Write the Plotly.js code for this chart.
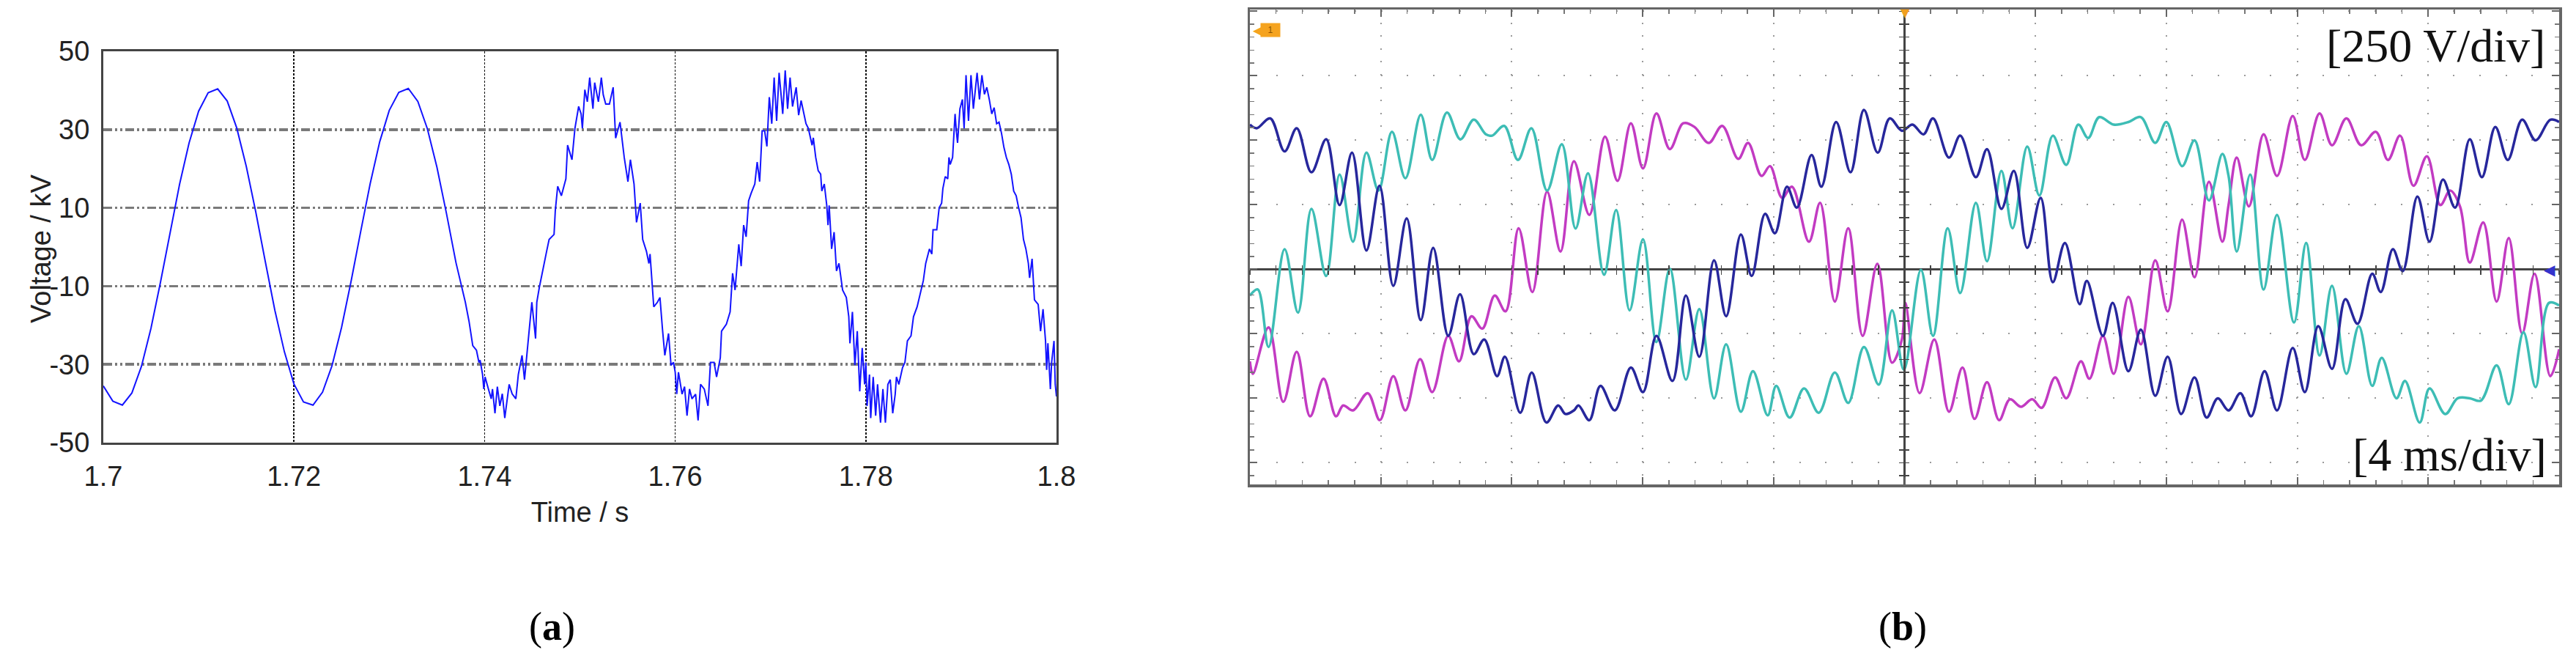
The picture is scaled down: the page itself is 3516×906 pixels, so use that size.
<!DOCTYPE html>
<html><head><meta charset="utf-8">
<script src="https://cdn.plot.ly/plotly-3.0.1.min.js"></script>
<style>html,body{margin:0;padding:0;background:#fff;} #chart{width:3516px;height:906px;}</style>
</head><body><div id="chart"></div>
<script>
// ---------- Panel (a): simulated voltage ----------
const timeClean = [1.700,1.701,1.702,1.703,1.704,1.705,1.706,1.707,1.708,1.709,1.710,1.711,1.712,1.713,1.714,1.715,1.716,1.717,1.718,1.719,1.720,1.721,1.722,1.723,1.724,1.725,1.726,1.727,1.728,1.729,1.730,1.731,1.732,1.733,1.734,1.735,1.736,1.737];
const voltClean = [-35.5,-39.4,-40.4,-37.3,-30.5,-20.8,-9.0,3.6,16.0,26.6,34.7,39.4,40.4,37.3,30.4,20.6,8.9,-3.8,-16.2,-26.8,-35.0,-39.6,-40.4,-37.1,-30.3,-20.5,-8.7,3.9,16.2,26.9,34.9,39.5,40.5,37.2,30.2,20.4,8.6,-4.0];
const timeNoisy = [1.73798,1.73837,1.73876,1.73915,1.73941,1.73953,1.73979,1.73992,1.74005,1.74044,1.74070,1.74083,1.74109,1.74134,1.74160,1.74186,1.74212,1.74238,1.74258,1.74289,1.74328,1.74354,1.74393,1.74419,1.74457,1.74496,1.74535,1.74548,1.74574,1.74612,1.74651,1.74677,1.74729,1.74742,1.74767,1.74806,1.74853,1.74871,1.74917,1.74948,1.74987,1.75013,1.75026,1.75052,1.75078,1.75103,1.75137,1.75155,1.75194,1.75225,1.75245,1.75271,1.75310,1.75349,1.75375,1.75421,1.75465,1.75504,1.75530,1.75568,1.75594,1.75633,1.75659,1.75698,1.75724,1.75736,1.75762,1.75775,1.75814,1.75840,1.75866,1.75891,1.75930,1.75956,1.75982,1.76000,1.76016,1.76034,1.76072,1.76098,1.76124,1.76150,1.76176,1.76214,1.76240,1.76266,1.76305,1.76344,1.76370,1.76408,1.76434,1.76473,1.76486,1.76537,1.76576,1.76602,1.76628,1.76667,1.76692,1.76718,1.76744,1.76770,1.76796,1.76835,1.76860,1.76886,1.76912,1.76938,
1.76962,1.76987,1.77013,1.77038,1.77064,1.77090,1.77115,1.77128,1.77154,1.77179,1.77205,1.77231,1.77269,1.77295,1.77321,1.77346,1.77372,1.77397,1.77436,1.77449,1.77474,1.77500,1.77526,1.77538,1.77564,1.77590,1.77603,1.77615,1.77641,1.77667,1.77692,1.77718,1.77756,1.77795,1.77821,1.77833,1.77859,1.77885,1.77910,1.77936,1.77962,1.77987,1.78000,1.78013,1.78038,1.78051,1.78077,1.78103,1.78123,1.78154,1.78179,1.78205,1.78231,1.78256,1.78282,1.78308,1.78321,1.78346,1.78385,1.78410,1.78436,1.78474,1.78500,1.78538,1.78577,1.78603,1.78628,1.78667,1.78692,1.78705,1.78744,1.78769,1.78795,1.78808,1.78833,1.78859,1.78872,1.78885,1.78910,1.78936,1.78949,1.78962,1.78987,1.79013,1.79031,1.79051,1.79077,1.79103,1.79128,1.79167,1.79192,1.79218,1.79244,1.79269,1.79295,1.79321,1.79346,1.79372,1.79397,1.79423,1.79449,1.79474,1.79500,1.79526,1.79551,1.79577,1.79603,1.79628,1.79654,1.79679,1.79705,1.79718,1.79744,1.79769,1.79808,1.79833,1.79859,1.79885,1.79897,1.79910,1.79936,1.79949,1.79974,1.79987,1.80000];
const voltNoisy = [-14.1,-19.0,-25.2,-26.4,-29.5,-28.9,-32.6,-36.3,-33.2,-36.6,-38.8,-36.3,-42.5,-35.7,-40.6,-37.5,-43.7,-38.8,-35.1,-37.5,-38.8,-32.6,-27.7,-33.9,-24.6,-14.1,-23.4,-14.1,-10.4,-5.5,-1.1,1.9,3.2,9.3,15.5,13.1,17.4,26.0,22.3,30.3,35.9,34.0,30.3,40.2,37.1,43.3,35.3,42.0,37.1,43.3,38.9,36.5,36.5,40.8,27.8,31.9,22.9,16.7,22.3,16.1,6.3,11.2,1.9,-1.1,-4.2,-1.8,-11.6,-15.3,-14.1,-12.9,-20.9,-27.7,-22.1,-30.2,-29.5,-32.0,-37.6,-32.0,-37.6,-35.7,-43.1,-36.3,-38.8,-37.6,-44.3,-35.1,-36.3,-40.6,-29.5,-29.5,-33.2,-28.3,-21.5,-19.7,-16.6,-6.7,-11.0,0.7,-4.9,5.6,2.6,11.8,13.7,16.1,21.7,16.7,29.7,29.7,
25.7,38.3,31.5,43.3,32.2,44.5,37.7,34.0,45.1,35.3,43.3,35.9,40.8,33.7,37.4,34.6,31.5,30.3,26.0,27.9,22.9,19.5,18.6,14.3,16.1,10.6,5.6,10.6,-0.5,3.8,-6.1,-4.2,-11.0,-12.9,-17.8,-24.6,-16.6,-30.2,-21.5,-36.9,-25.8,-35.1,-29.5,-40.6,-32.6,-43.7,-33.2,-43.1,-35.1,-44.9,-36.3,-44.9,-35.1,-33.9,-42.5,-37.6,-33.2,-35.1,-30.8,-29.5,-24.0,-22.7,-17.8,-15.3,-11.0,-8.6,-4.2,-0.5,-1.8,4.4,4.4,10.0,11.2,14.9,18.0,17.4,22.9,21.1,22.9,34.0,29.7,26.6,35.3,37.7,30.3,43.9,32.2,43.9,35.3,44.5,37.7,43.9,39.0,40.8,37.7,34.0,35.6,31.5,31.9,29.1,25.4,22.9,21.1,18.6,14.3,13.1,10.0,7.5,1.9,-0.5,-4.2,-7.9,-3.0,-13.5,-14.7,-21.5,-15.9,-24.0,-31.4,-24.6,-36.3,-29.5,-24.0,-35.1,-38.2];
const xTickVals = [1.7,1.72,1.74,1.76,1.78,1.8];
const xTickText = ['1.7','1.72','1.74','1.76','1.78','1.8'];
const yTickVals = [-50,-30,-10,10,30,50];
const yTickText = ['-50','-30','-10','10','30','50'];
const axisTitlesA = ['Time / s', 'Voltage / kV'];

// ---------- Panel (b): oscilloscope, time in ms, voltage in V ----------
const blueT = [0,0.21,0.62,1.06,1.43,1.88,2.33,2.74,3.12,3.56,3.96,4.38,4.79,5.22,5.60,6.06,6.42,6.84,7.16,7.55,7.79,8.26,8.61,9.06,9.42,9.64,9.90,10.04,10.37,10.71,11.15,11.64,12.01,12.42,12.91,13.32,13.73,14.18,14.55,15.00,15.33,15.74,16.04,16.41,16.71,17.16,17.46,17.91,18.35,18.76,19.18,19.55,19.92,20.24,20.58,20.87,21.36,21.70,22.18,22.52,22.96,23.34,23.75,24.16,24.53,24.90,25.35,25.57,26.06,26.36,26.84,27.22,27.66,28.04,28.45,28.86,29.23,29.57,29.90,30.26,30.59,31.00,31.38,31.86,32.23,32.64,33.06,33.47,33.84,34.29,34.55,34.92,35.22,35.67,36.04,36.45,36.82,37.27,37.64,38.05,38.43,38.87,39.28,39.73,40.0];
const blueV = [561,547,585,457,547,376,504,249,452,73,324,-64,197,-197,83,-258,-97,-329,-272,-414,-339,-556,-400,-594,-528,-561,-547,-528,-585,-452,-547,-381,-476,-258,-433,-102,-339,35,-182,135,-26,215,140,320,239,443,320,571,376,618,452,585,537,561,523,585,433,518,357,466,234,381,83,277,-50,102,-135,-45,-258,-130,-395,-234,-490,-339,-561,-419,-575,-500,-547,-480,-570,-395,-547,-305,-476,-220,-386,-116,-211,-17,-88,78,-7,282,107,348,239,504,357,552,424,580,500,580,571];
const cyanT = [0,0.24,0.57,1.06,1.47,1.88,2.33,2.74,3.15,3.56,3.93,4.34,4.75,5.22,5.57,6.02,6.43,6.84,7.21,7.40,7.77,8.19,8.60,9.08,9.53,9.95,10.33,10.82,11.19,11.60,12.01,12.42,12.83,13.32,13.73,14.18,14.55,15.00,15.37,15.82,16.08,16.49,16.93,17.38,17.87,18.28,18.76,19.21,19.62,19.98,20.50,20.87,21.32,21.70,22.18,22.52,22.96,23.30,23.75,24.12,24.53,24.94,25.31,25.61,25.95,26.39,26.84,27.22,27.66,28.00,28.48,28.86,29.30,29.71,29.90,30.15,30.56,30.97,31.38,31.90,32.27,32.68,33.06,33.50,33.88,34.29,34.58,35.03,35.29,35.74,36.04,36.52,36.90,37.27,37.61,38.09,38.46,38.91,39.28,39.69,40.0];
const cyanV = [-102,-78,-301,78,-168,234,-26,367,107,452,305,533,353,599,424,608,504,580,523,518,556,424,547,305,485,158,372,-21,230,-159,116,-282,2,-428,-154,-500,-291,-552,-395,-566,-452,-575,-462,-556,-400,-518,-301,-447,-159,-390,-2,-258,159,-92,258,31,381,159,476,286,518,405,561,509,590,561,571,590,490,571,400,500,267,447,362,69,367,-78,211,-206,102,-334,-64,-405,-220,-452,-343,-500,-433,-594,-462,-561,-500,-500,-509,-372,-523,-244,-457,-130,-140];
const magT = [0,0.09,0.57,1.02,1.43,1.84,2.25,2.63,2.85,3.15,3.60,3.97,4.38,4.75,5.20,5.57,6.06,6.39,6.77,7.10,7.48,7.81,8.21,8.63,9.08,9.49,9.90,10.37,10.85,11.23,11.64,12.01,12.42,12.83,13.24,13.58,14.02,14.43,14.92,15.22,15.63,15.89,16.26,16.56,17.08,17.42,17.87,18.28,18.72,19.17,19.62,19.92,20.02,20.46,20.91,21.36,21.77,22.14,22.52,22.89,23.22,23.56,23.90,24.19,24.60,24.94,25.39,25.65,26.06,26.39,26.84,27.22,27.66,28.04,28.48,28.86,29.30,29.71,29.90,30.15,30.52,30.97,31.38,31.86,32.23,32.68,33.06,33.50,33.95,34.40,34.77,35.14,35.55,35.96,36.37,36.67,36.97,37.27,37.68,38.09,38.46,38.87,39.25,39.73,40.0];
const magV = [-357,-405,-225,-514,-320,-570,-424,-570,-528,-547,-480,-585,-414,-547,-348,-476,-258,-357,-182,-230,-102,-163,159,-88,301,69,419,211,514,343,566,391,604,466,566,552,490,556,428,490,362,400,277,320,107,258,-125,159,-258,21,-362,-272,-130,-480,-272,-552,-381,-580,-438,-585,-504,-533,-504,-537,-419,-500,-357,-424,-258,-405,-107,-291,35,-163,192,-31,339,107,249,433,244,523,362,594,424,604,481,585,481,533,424,518,324,438,249,305,244,26,182,-125,121,-249,-17,-414,-310];
const panelLabels = ['(<b>a</b>)', '(<b>b</b>)'];
const scopeLabels = ['[250 V/div]', '[4 ms/div]'];

const W = 3516, H = 906;
const px = v => v / W, py = v => 1 - v / H;
const sans = 'Liberation Sans, Arial, sans-serif';
const serif = 'Liberation Serif, Times New Roman, serif';

const traces = [
  {x: timeClean.concat(timeNoisy), y: voltClean.concat(voltNoisy), xaxis: 'x', yaxis: 'y', type: 'scatter', mode: 'lines',
   line: {color: 'rgb(20,20,255)', width: 2}, hoverinfo: 'skip'},
  {x: magT, y: magV, xaxis: 'x2', yaxis: 'y2', type: 'scatter', mode: 'lines',
   line: {color: '#c23bc2', width: 3.5, shape: 'spline', smoothing: 1}},
  {x: cyanT, y: cyanV, xaxis: 'x2', yaxis: 'y2', type: 'scatter', mode: 'lines',
   line: {color: '#3dbdb5', width: 3.5, shape: 'spline', smoothing: 1}},
  {x: blueT, y: blueV, xaxis: 'x2', yaxis: 'y2', type: 'scatter', mode: 'lines',
   line: {color: '#27279c', width: 3.5, shape: 'spline', smoothing: 1}},
  // empty traces that carry the centre-line axes (line + tick crosses)
  {x: [], y: [], xaxis: 'x3', yaxis: 'y2', type: 'scatter', mode: 'lines'},
  {x: [], y: [], xaxis: 'x4', yaxis: 'y2', type: 'scatter', mode: 'lines'},
  {x: [], y: [], xaxis: 'x2', yaxis: 'y3', type: 'scatter', mode: 'lines'},
  {x: [], y: [], xaxis: 'x2', yaxis: 'y4', type: 'scatter', mode: 'lines'}
];

const yZero = 0.59437, xMid = 0.73933;
const rangeX2 = [0, 40], rangeY2 = [-834, 1007];
const centerTickX = (dir) => ({overlaying: 'x2', anchor: 'free', position: yZero, range: rangeX2, tick0: 0, dtick: 0.8,
  ticks: dir, ticklen: 6, tickwidth: 1.5, tickcolor: '#444', showticklabels: false, showgrid: false, zeroline: false, showline: false, fixedrange: true});
const centerTickY = (dir) => ({overlaying: 'y2', anchor: 'free', position: xMid, range: rangeY2, tick0: 0, dtick: 50,
  ticks: dir, ticklen: 6, tickwidth: 1.5, tickcolor: '#444', showticklabels: false, showgrid: false, zeroline: false,
  showline: dir === 'outside', linecolor: '#444', linewidth: 2.5, fixedrange: true});

const layout = {
  width: W, height: H, margin: {l: 0, r: 0, t: 0, b: 0},
  paper_bgcolor: '#fff', plot_bgcolor: '#fff', showlegend: false,
  font: {family: sans, color: '#222'},
  xaxis: {domain: [px(141), px(1442)], anchor: 'y', range: [1.7, 1.8], tickvals: xTickVals, ticktext: xTickText,
    tickfont: {size: 38, color: '#222'}, ticks: '', ticklabelstandoff: 10,
    showgrid: true, gridcolor: '#111', gridwidth: 1.5, griddash: '3px,2px', zeroline: false,
    showline: true, mirror: true, linecolor: '#444', linewidth: 3,
    title: {text: axisTitlesA[0], font: {size: 38, color: '#222'}, standoff: 16}},
  yaxis: {domain: [py(604), py(70)], anchor: 'x', range: [-50, 50], tickvals: yTickVals, ticktext: yTickText,
    tickfont: {size: 38, color: '#222'}, ticks: '', ticklabelstandoff: 8,
    showgrid: true, gridcolor: '#7a7a7a', gridwidth: 3.5, griddash: '12px,4px,3px,4px,3px,4px', zeroline: false,
    showline: true, mirror: true, linecolor: '#444', linewidth: 3},
  xaxis2: {domain: [px(1706), px(3493)], anchor: 'y2', range: rangeX2, tick0: 0, dtick: 4, showticklabels: false,
    showgrid: true, gridcolor: '#9a9a9a', gridwidth: 2, griddash: '2px,15.6px', zeroline: false,
    showline: true, mirror: 'ticks', linecolor: '#666', linewidth: 3.5,
    ticks: 'inside', ticklen: 10, tickwidth: 2, tickcolor: '#666',
    minor: {tick0: 0, dtick: 0.8, ticks: 'inside', ticklen: 6, tickwidth: 1.5, tickcolor: '#777', showgrid: false}},
  yaxis2: {domain: [py(661), py(13)], anchor: 'x2', range: rangeY2, tick0: 0, dtick: 250, showticklabels: false,
    showgrid: true, gridcolor: '#9a9a9a', gridwidth: 2, griddash: '2px,33.7px',
    zeroline: true, zerolinecolor: '#444', zerolinewidth: 2.5,
    showline: true, mirror: 'ticks', linecolor: '#666', linewidth: 3.5,
    ticks: 'inside', ticklen: 10, tickwidth: 2, tickcolor: '#666',
    minor: {tick0: 0, dtick: 50, ticks: 'inside', ticklen: 6, tickwidth: 1.5, tickcolor: '#777', showgrid: false}},
  xaxis3: centerTickX('outside'),
  xaxis4: centerTickX('inside'),
  yaxis3: centerTickY('outside'),
  yaxis4: centerTickY('inside'),
  annotations: [
    {text: axisTitlesA[1], xref: 'paper', yref: 'paper', x: px(56), y: py(339), xanchor: 'center', yanchor: 'middle',
     textangle: -90, showarrow: false, font: {family: sans, size: 38, color: '#222'}},
    {text: scopeLabels[0], xref: 'paper', yref: 'paper', x: px(3476), y: py(62), xanchor: 'right', yanchor: 'middle', showarrow: false,
     font: {family: serif, size: 64, color: '#111'}},
    {text: scopeLabels[1], xref: 'paper', yref: 'paper', x: px(3478), y: py(620), xanchor: 'right', yanchor: 'middle', showarrow: false,
     font: {family: serif, size: 64, color: '#111'}},
    {text: panelLabels[0], xref: 'paper', yref: 'paper', x: px(753), y: py(855), xanchor: 'center', yanchor: 'middle', showarrow: false,
     font: {family: serif, size: 54, color: '#000'}},
    {text: panelLabels[1], xref: 'paper', yref: 'paper', x: px(2597), y: py(855), xanchor: 'center', yanchor: 'middle', showarrow: false,
     font: {family: serif, size: 54, color: '#000'}},
    {text: '◀', xref: 'paper', yref: 'paper', x: px(1716), y: py(41), xanchor: 'center', yanchor: 'middle', showarrow: false,
     font: {family: 'DejaVu Sans, sans-serif', size: 16, color: '#f5a31f'}},
    {text: '1', xref: 'paper', yref: 'paper', x: px(1734), y: py(41), xanchor: 'center', yanchor: 'middle', showarrow: false,
     bgcolor: '#f5a31f', borderpad: 2, width: 22, font: {family: sans, size: 12, color: '#8a5200'}},
    {text: '▼', xref: 'paper', yref: 'paper', x: px(2600), y: py(18), xanchor: 'center', yanchor: 'middle', showarrow: false,
     font: {family: 'DejaVu Sans, sans-serif', size: 16, color: '#f0a020'}},
    {text: '◀', xref: 'paper', yref: 'paper', x: px(3480), y: yZero, xanchor: 'center', yanchor: 'middle', showarrow: false,
     font: {family: 'DejaVu Sans, sans-serif', size: 20, color: '#3333cc'}}
  ]
};

Plotly.newPlot('chart', traces, layout, {displayModeBar: false, staticPlot: true});
</script>
</body></html>
